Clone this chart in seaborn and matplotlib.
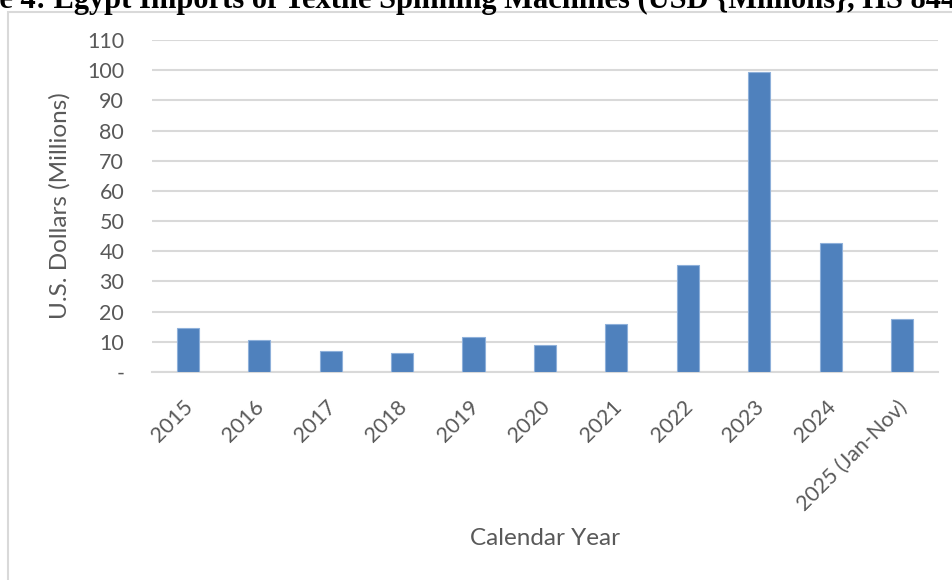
import numpy as np
import pandas as pd
import seaborn as sns
import matplotlib.pyplot as plt
from matplotlib.patches import Rectangle
from matplotlib.transforms import ScaledTranslation

years = ["2015", "2016", "2017", "2018", "2019", "2020", "2021",
         "2022", "2023", "2024", "2025 (Jan-Nov)"]
imports_musd = [14.6, 10.6, 7.1, 6.4, 11.7, 9.1, 16.0, 35.6, 99.3, 42.9, 17.7]
y_ticks = list(range(0, 111, 10))
y_tick_labels = ["-"] + [str(v) for v in y_ticks[1:]]

title = "Figure 4: Egypt Imports of Textile Spinning Machines (USD {Millions}, HS 8445)"

df = pd.DataFrame({"Year": years, "Imports": imports_musd})

sns.set_theme(style="white")
plt.rcParams["font.family"] = ["Lato", "DejaVu Sans"]
text_color = "#595959"
grid_color = "#D9D9D9"

fig = plt.figure(figsize=(9.53, 5.8), dpi=100)
ax = fig.add_axes([0.1595, 0.3586, 0.8245, 0.5724])

sns.barplot(data=df, x="Year", y="Imports", color="#4F81BD", width=0.31,
            saturation=1, edgecolor="#8EB0DA", linewidth=0.8, ax=ax, zorder=3)

ax.set_ylim(0, 110)
ax.set_xlim(-0.5, len(years) - 0.5)
ax.set_yticks(y_ticks)
ax.set_yticklabels(y_tick_labels)
ax.yaxis.grid(True, color=grid_color, linewidth=1.5, zorder=0)
ax.set_axisbelow(True)
for side in ["top", "left", "right"]:
    ax.spines[side].set_visible(False)
ax.spines["bottom"].set_color(grid_color)
ax.spines["bottom"].set_linewidth(1.5)

ax.tick_params(axis="y", length=0, pad=20, labelsize=15.5, labelcolor=text_color)
ax.tick_params(axis="x", length=0, pad=18, labelsize=15.5, labelcolor=text_color)
shift_left = ScaledTranslation(-5 / 100, 0, fig.dpi_scale_trans)
for lbl in ax.get_xticklabels():
    lbl.set_rotation(45)
    lbl.set_ha("right")
    lbl.set_rotation_mode("anchor")
    lbl.set_transform(lbl.get_transform() + shift_left)

ax.set_xlabel("Calendar Year", fontsize=17.5, color=text_color)
ax.set_ylabel("U.S. Dollars (Millions)", fontsize=17.5, color=text_color)
ax.xaxis.set_label_coords(0.5, (372 - 538) / 332, transform=ax.transAxes)
ax.xaxis.label.set_va("center")
ax.yaxis.set_label_coords((60 - 152) / 786, 0.5)
ax.yaxis.label.set_va("center")

# chart border
fig.patches.append(Rectangle((8 / 953, -0.01), 1.0, 1 - 12 / 580 + 0.01,
                             transform=fig.transFigure, fill=False,
                             edgecolor="#D9D9D9", linewidth=1.5))

# title, partly clipped at the top like the source
renderer = fig.canvas.get_renderer()
probe = fig.text(0, 0, "Figur", fontsize=22, fontweight="bold",
                 family="Liberation Serif")
shift = probe.get_window_extent(renderer).width
probe.remove()
fig.text(-shift / 953, 1 - 8 / 580, title, fontsize=22, fontweight="bold",
         family="Liberation Serif", color="black", ha="left", va="baseline")

fig.savefig("out.png", dpi=100)
